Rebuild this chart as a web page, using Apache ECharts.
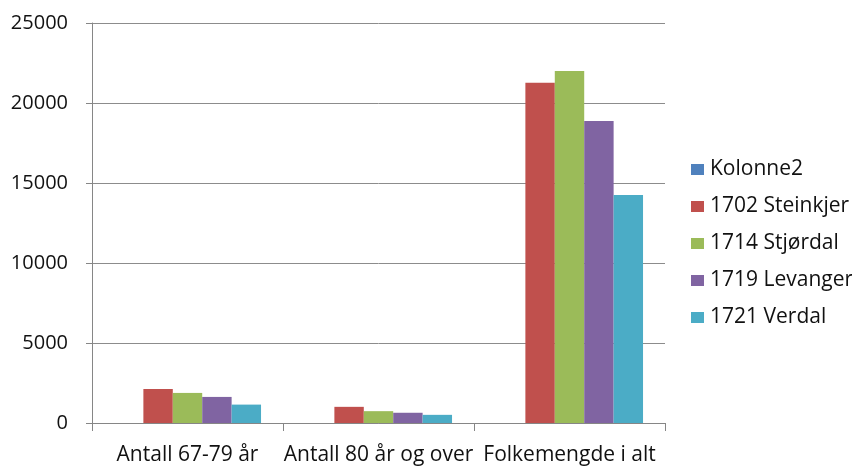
<!DOCTYPE html>
<html><head><meta charset="utf-8">
<script src="https://cdn.jsdelivr.net/npm/echarts@6/dist/echarts.min.js"></script>
<style>html,body{margin:0;padding:0;background:#fff}#c{width:852px;height:466px}</style>
</head><body><div id="c"></div>
<script>
const categories = ['Antall 67-79 år', 'Antall 80 år og over', 'Folkemengde i alt'];
const seriesNames = ['Kolonne2', '1702 Steinkjer', '1714 Stjørdal', '1719 Levanger', '1721 Verdal'];
const kolonne2 = [null, null, null];
const steinkjer = [2130, 1010, 21270];
const stjordal = [1880, 740, 22000];
const levanger = [1630, 640, 18880];
const verdal = [1150, 510, 14250];
const yTicks = [0, 5000, 10000, 15000, 20000, 25000];
const colors = ['#4F81BD', '#C0504D', '#9BBB59', '#8064A2', '#4BACC6'];

const values = [kolonne2, steinkjer, stjordal, levanger, verdal];
const font = '"Open Sans", sans-serif';
const chart = echarts.init(document.getElementById('c'), null, {renderer: 'canvas'});
chart.setOption({
  animation: false,
  color: colors,
  grid: {left: 92, right: 187, top: 23, bottom: 42, containLabel: false},
  legend: {
    orient: 'vertical', left: 686, top: 154,
    itemWidth: 13, itemHeight: 11, itemGap: 16,
    icon: 'rect',
    textStyle: {fontFamily: font, fontSize: 21, color: '#111', padding: [0,0,0,1]},
    data: seriesNames
  },
  xAxis: {
    type: 'category', data: categories,
    axisLine: {lineStyle: {color: '#868686', width: 1}},
    axisTick: {show: true, length: 8, lineStyle: {color: '#868686'}},
    axisLabel: {fontFamily: font, fontSize: 21, color: '#111', margin: 22, interval: 0}
  },
  yAxis: {
    type: 'value', min: yTicks[0], max: yTicks[yTicks.length-1], interval: 5000,
    axisLine: {show: true, lineStyle: {color: '#868686', width: 1}},
    axisTick: {show: true, length: 6, lineStyle: {color: '#868686'}},
    splitLine: {lineStyle: {color: '#8c8c8c', width: 1}},
    axisLabel: {fontFamily: font, fontSize: 20, color: '#111', margin: 24, formatter: v => String(v)}
  },
  series: seriesNames.map((n, i) => ({
    name: n, type: 'bar', data: values[i],
    barGap: '0%', barCategoryGap: '23%',
    itemStyle: {color: colors[i]}
  }))
});
</script></body></html>
